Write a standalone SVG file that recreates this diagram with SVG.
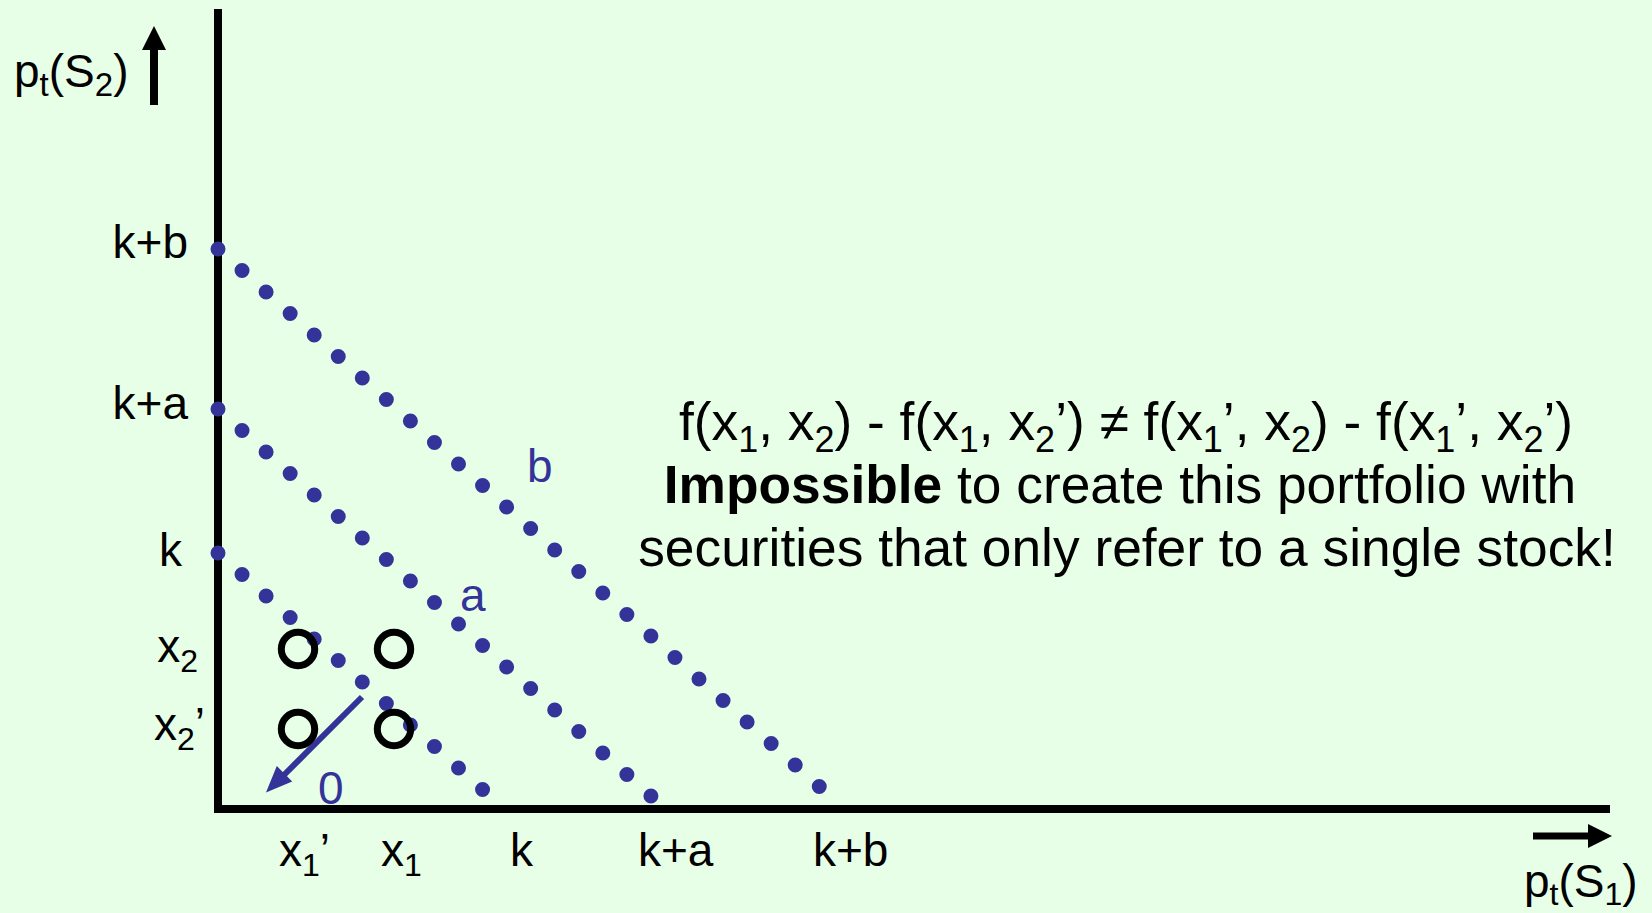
<svg xmlns="http://www.w3.org/2000/svg" width="1652" height="913" viewBox="0 0 1652 913">
  <style>
    .lbl { font-family: "Liberation Sans", Arial, sans-serif; font-size: 46px; fill: #000; }
    .blue { font-family: "Liberation Sans", Arial, sans-serif; font-size: 46px; fill: #333399; }
    .txt { font-family: "Liberation Sans", Arial, sans-serif; font-size: 53.3px; fill: #000; }
    .dots { fill: none; stroke: #333399; stroke-width: 15; stroke-linecap: round; stroke-dasharray: 0 32.259; }
    .axis { fill: none; stroke: #000; stroke-width: 8; stroke-linejoin: miter; }
    .ring { fill: none; stroke: #000; stroke-width: 7; }
  </style>
  <defs>
    <marker id="blackHead" markerUnits="userSpaceOnUse" markerWidth="24" markerHeight="24" viewBox="0 0 24 24" refX="2" refY="12" orient="auto">
      <path d="M0,0 L24,12 L0,24 z" fill="#000"/>
    </marker>
  </defs>
  <rect x="0" y="0" width="1652" height="913" fill="#E6FFE6"/>

  <g id="axes">
    <polyline class="axis" points="218,9 218,809 1610,809"/>
  </g>

  <g id="connectors">
    <line x1="154" y1="105" x2="154" y2="48" stroke="#000" stroke-width="8" marker-end="url(#blackHead)"/>
    <line x1="1533" y1="836" x2="1590" y2="836" stroke="#000" stroke-width="7" marker-end="url(#blackHead)"/>
    <line x1="362" y1="697" x2="284" y2="775" stroke="#333399" stroke-width="6"/>
    <polygon points="266,792.5 292.2,781.5 276.8,765.9" fill="#333399"/>
  </g>

  <g id="dot-lines">
    <path class="dots" d="M218,249 L820.75,787.83"/>
    <path class="dots" d="M218,409 L652.4,797.3"/>
    <path class="dots" d="M218,553 L484.05,790.83"/>
  </g>

  <g id="points">
    <circle class="ring" cx="298" cy="649" r="16.7"/>
    <circle class="ring" cx="394" cy="649" r="16.7"/>
    <circle class="ring" cx="298" cy="729" r="16.7"/>
    <circle class="ring" cx="394" cy="729" r="16.7"/>
  </g>

  <g id="axis-labels">
    <text class="lbl" x="14" y="87" font-size="48">p<tspan font-size="33" dy="9">t</tspan><tspan dy="-9">(S</tspan><tspan font-size="33" dy="9">2</tspan><tspan dy="-9">)</tspan></text>
    <text class="lbl" x="1524" y="897" font-size="47">p<tspan font-size="32" dy="8">t</tspan><tspan dy="-8">(S</tspan><tspan font-size="32" dy="8">1</tspan><tspan dy="-8">)</tspan></text>
  </g>

  <g id="y-ticks">
    <text class="lbl" x="188" y="258" text-anchor="end">k+b</text>
    <text class="lbl" x="188" y="419" text-anchor="end">k+a</text>
    <text class="lbl" x="182" y="566" text-anchor="end">k</text>
    <text class="lbl" x="198" y="662" text-anchor="end">x<tspan font-size="32" dy="10">2</tspan></text>
    <text class="lbl" x="205" y="740" text-anchor="end">x<tspan font-size="32" dy="10">2</tspan><tspan dy="-10">’</tspan></text>
  </g>

  <g id="x-ticks">
    <text class="lbl" x="279" y="866">x<tspan font-size="32" dy="10">1</tspan><tspan dy="-10">’</tspan></text>
    <text class="lbl" x="381" y="866">x<tspan font-size="32" dy="10">1</tspan></text>
    <text class="lbl" x="510" y="866">k</text>
    <text class="lbl" x="638" y="866">k+a</text>
    <text class="lbl" x="813" y="866">k+b</text>
  </g>

  <g id="line-labels">
    <text class="blue" x="527" y="482">b</text>
    <text class="blue" x="460" y="611">a</text>
    <text class="blue" x="318" y="804">0</text>
  </g>

  <g id="statement">
    <text class="txt" x="1126" y="440" text-anchor="middle">f(x<tspan font-size="36" dy="12">1</tspan><tspan dy="-12">, x</tspan><tspan font-size="36" dy="12">2</tspan><tspan dy="-12">) - f(x</tspan><tspan font-size="36" dy="12">1</tspan><tspan dy="-12">, x</tspan><tspan font-size="36" dy="12">2</tspan><tspan dy="-12">’) ≠ f(x</tspan><tspan font-size="36" dy="12">1</tspan><tspan dy="-12">’, x</tspan><tspan font-size="36" dy="12">2</tspan><tspan dy="-12">) - f(x</tspan><tspan font-size="36" dy="12">1</tspan><tspan dy="-12">’, x</tspan><tspan font-size="36" dy="12">2</tspan><tspan dy="-12">’)</tspan></text>
    <text class="txt" x="1120" y="503" text-anchor="middle"><tspan font-weight="bold">Impossible</tspan> to create this portfolio with</text>
    <text class="txt" x="1127" y="566" text-anchor="middle">securities that only refer to a single stock!</text>
  </g>
</svg>
